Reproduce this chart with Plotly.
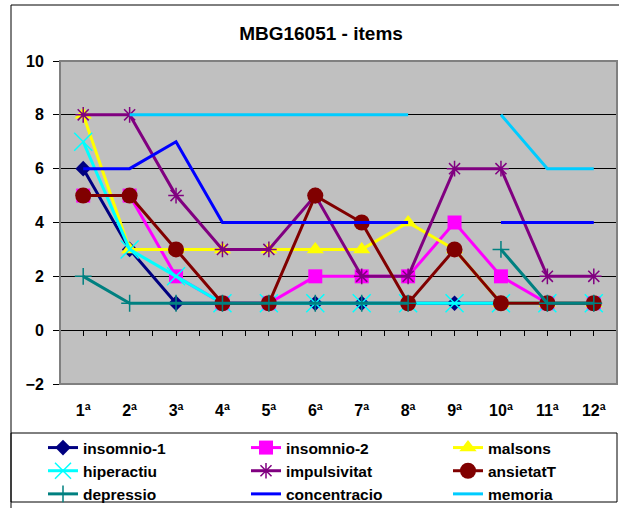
import plotly.graph_objects as go

categories = ['1ª', '2ª', '3ª', '4ª', '5ª', '6ª', '7ª', '8ª', '9ª', '10ª', '11ª', '12ª']
insomnio1 = [6, 3, 1, 1, 1, 1, 1, 1, 1, 1, 1, 1]
insomnio2 = [5, 5, 2, 1, 1, 2, 2, 2, 4, 2, 1, 1]
malsons = [8, 3, 3, 3, 3, 3, 3, 4, 3, 1, 1, 1]
hiperactiu = [7, 3, 2, 1, 1, 1, 1, 1, 1, 1, 1, 1]
impulsivitat = [8, 8, 5, 3, 3, 5, 2, 2, 6, 6, 2, 2]
ansietatT = [5, 5, 3, 1, 1, 5, 4, 1, 3, 1, 1, 1]
depressio = [2, 1, 1, 1, 1, 1, 1, 1, None, 3, 1, 1]
concentracio = [6, 6, 7, 4, 4, 4, 4, 4, None, 4, 4, 4]
memoria = [None, 8, 8, 8, 8, 8, 8, 8, None, 8, 6, 6]
y_ticks = [-2, 0, 2, 4, 6, 8, 10]

FONT = "Arial, 'Liberation Sans', sans-serif"
W, H = 619, 508
L, R, T, B = 60, 2, 61, 124
PW, PH = W - L - R, H - T - B

def px_x(p):
    return (p - L) / PW

def px_y(p):
    return (H - B - p) / PH

series = [
    ("insomnio-1", insomnio1, dict(symbol="diamond", size=12, color="#000080", line=dict(width=0)), "#000080", "legend"),
    ("insomnio-2", insomnio2, dict(symbol="square", size=14, color="#FF00FF", line=dict(width=0)), "#FF00FF", "legend2"),
    ("malsons", malsons, dict(symbol="triangle-up", size=15, color="#FFFF00", line=dict(width=0)), "#FFFF00", "legend3"),
    ("hiperactiu", hiperactiu, dict(symbol="x-thin-open", size=18, color="#00FFFF", line=dict(width=1.5, color="#00FFFF")), "#00FFFF", "legend"),
    ("impulsivitat", impulsivitat, dict(symbol="asterisk-open", size=13, color="#800080", line=dict(width=1.5, color="#800080")), "#800080", "legend2"),
    ("ansietatT", ansietatT, dict(symbol="circle", size=16, color="#800000", line=dict(width=0)), "#800000", "legend3"),
    ("depressio", depressio, dict(symbol="cross-thin-open", size=12, color="#008080", line=dict(width=1.5, color="#008080")), "#008080", "legend"),
    ("concentracio", concentracio, None, "#0000FF", "legend2"),
    ("memoria", memoria, None, "#00CCFF", "legend3"),
]

fig = go.Figure()
for name, vals, marker, color, leg in series:
    kw = dict(x=categories, y=vals, name=name, legend=leg,
              line=dict(color=color, width=3), connectgaps=False)
    if marker is None:
        kw["mode"] = "lines"
    else:
        kw["mode"] = "lines+markers"
        kw["marker"] = marker
    fig.add_trace(go.Scatter(**kw))

# empty trace so the zero-line axis exists
fig.add_trace(go.Scatter(x=[], y=[], xaxis="x2", showlegend=False, hoverinfo="skip"))

legend_common = dict(
    xref="container", yref="container", xanchor="left", yanchor="top",
    orientation="v", bgcolor="rgba(0,0,0,0)", borderwidth=0,
    font=dict(family=FONT, size=15.5, color="black", weight="bold"),
    itemwidth=30, traceorder="normal", itemsizing="trace",
)
ly = 1 - 431 / H
fig.update_layout(
    width=W, height=H,
    margin=dict(l=L, r=R, t=T, b=B, autoexpand=False),
    paper_bgcolor="white",
    plot_bgcolor="#C0C0C0",
    title=dict(text="MBG16051 - items", xref="container", yref="container",
               x=321 / W, y=1 - 33 / H, xanchor="center", yanchor="middle",
               font=dict(family=FONT, size=19, color="black", weight="bold")),
    legend=dict(x=43 / W, y=ly, **legend_common),
    legend2=dict(x=246 / W, y=ly, **legend_common),
    legend3=dict(x=448 / W, y=ly, **legend_common),
    xaxis=dict(type="category", categoryorder="array", categoryarray=categories,
               range=[-0.5, len(categories) - 0.5],
               showgrid=False, showline=False, ticks="", zeroline=False,
               tickfont=dict(family=FONT, size=16, color="black", weight="bold"),
               ticklabelstandoff=15),
    xaxis2=dict(overlaying="x", anchor="free", position=(0 - y_ticks[0]) / (y_ticks[-1] - y_ticks[0]),
                range=[-0.5, len(categories) - 0.5], type="linear",
                showline=True, linecolor="black", linewidth=1,
                ticks="outside", ticklen=5, tickcolor="black", tickwidth=1,
                tick0=0, dtick=0.5, showticklabels=False, showgrid=False, zeroline=False),
    yaxis=dict(range=[y_ticks[0], y_ticks[-1]], tickvals=y_ticks,
               showgrid=True, gridcolor="black", gridwidth=1, zeroline=False,
               showline=False, ticks="outside", ticklen=6, tickcolor="black",
               tickfont=dict(family=FONT, size=16, color="black", weight="bold"),
               ticklabelstandoff=6),
    showlegend=True,
    shapes=[
        # plot area border
        dict(type="rect", xref="paper", yref="paper", x0=0, x1=1, y0=0, y1=1,
             line=dict(color="#808080", width=2), layer="above"),
        # chart area border
        dict(type="rect", xref="paper", yref="paper", x0=px_x(11), x1=px_x(640),
             y0=px_y(530), y1=px_y(5), line=dict(color="black", width=1)),
        # legend box
        dict(type="rect", xref="paper", yref="paper", x0=px_x(11), x1=px_x(617),
             y0=px_y(502), y1=px_y(433), line=dict(color="black", width=1)),
    ],
)

fig.write_html("out.html")
